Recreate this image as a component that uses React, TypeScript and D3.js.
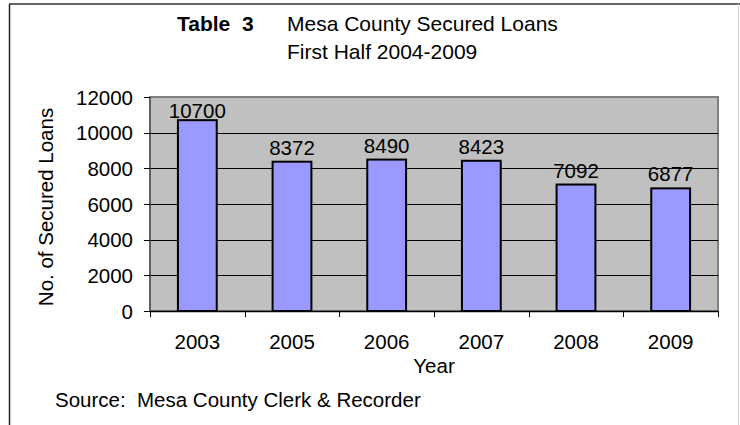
import React from "react";
import * as d3 from "d3";

const categories = ["2003", "2005", "2006", "2007", "2008", "2009"];
const loans = [10700, 8372, 8490, 8423, 7092, 6877];
const yTicks = [0, 2000, 4000, 6000, 8000, 10000, 12000];
const titleBold = "Table  3";
const titleLine1 = "Mesa County Secured Loans";
const titleLine2 = "First Half 2004-2009";
const xAxisTitle = "Year";
const yAxisTitle = "No. of Secured Loans";
const sourceNote = "Source:  Mesa County Clerk & Recorder";

const W = 740;
const H = 425;
const plot = { left: 150, right: 718, top: 97, bottom: 311 };
const FONT = "'Liberation Sans', Arial, sans-serif";
const FS = 20.5;

export default function App() {
  const y = d3.scaleLinear().domain([0, 12000]).range([plot.bottom, plot.top]);
  const pInner = 0.59;
  const x = d3
    .scaleBand<string>()
    .domain(categories)
    .range([plot.left, plot.right])
    .paddingInner(pInner)
    .paddingOuter(pInner / 2);
  const step = x.step();
  const boundaries = categories
    .map((c) => (x(c) as number) - (step * pInner) / 2)
    .concat([plot.right]);

  return (
    <svg
      width={W}
      height={H}
      style={{ position: "absolute", left: 0, top: 0, background: "#fff" }}
      fontFamily={FONT}
    >
      <rect x={0} y={0} width={W} height={H} fill="#fff" />
      {/* outer chart border */}
      <line x1={9.5} y1={4} x2={9.5} y2={H} stroke="#222" strokeWidth={1.5} />
      <line x1={9} y1={4} x2={W} y2={4} stroke="#333" strokeWidth={1.5} />
      <line x1={738.5} y1={4} x2={738.5} y2={H} stroke="#d0d0d0" strokeWidth={1} />

      {/* titles */}
      <text x={177} y={31} fontSize={21} fontWeight="bold" fill="#000" style={{ whiteSpace: "pre" }}>
        {titleBold}
      </text>
      <text x={287} y={31} fontSize={21} fill="#000">
        {titleLine1}
      </text>
      <text x={287} y={59} fontSize={21} fill="#000">
        {titleLine2}
      </text>

      {/* plot area */}
      <rect
        x={plot.left}
        y={plot.top}
        width={plot.right - plot.left}
        height={plot.bottom - plot.top}
        fill="#c0c0c0"
        stroke="#808080"
        strokeWidth={2}
      />
      {/* gridlines */}
      {yTicks
        .filter((t) => t > 0 && t < 12000)
        .map((t) => (
          <line
            key={"g" + t}
            x1={plot.left}
            x2={plot.right}
            y1={Math.round(y(t)) + 0.5}
            y2={Math.round(y(t)) + 0.5}
            stroke="#000"
            strokeWidth={1}
          />
        ))}

      {/* bars */}
      {categories.map((c, i) => (
        <rect
          key={"b" + c}
          x={x(c) as number}
          y={y(loans[i])}
          width={x.bandwidth()}
          height={plot.bottom - y(loans[i])}
          fill="#9999ff"
          stroke="#000"
          strokeWidth={2}
        />
      ))}

      {/* data labels (kept inside the plot area) */}
      {categories.map((c, i) => (
        <text
          key={"l" + c}
          x={(x(c) as number) + x.bandwidth() / 2}
          y={Math.max(y(loans[i]) - 7, plot.top + 21)}
          fontSize={FS}
          textAnchor="middle"
          fill="#000"
        >
          {loans[i]}
        </text>
      ))}

      {/* y axis */}
      <line x1={plot.left} x2={plot.left} y1={plot.top} y2={plot.bottom} stroke="#555" strokeWidth={1.5} />
      {yTicks.map((t) => (
        <g key={"yt" + t}>
          <line
            x1={plot.left - 6}
            x2={plot.left}
            y1={Math.round(y(t)) + 0.5}
            y2={Math.round(y(t)) + 0.5}
            stroke="#000"
            strokeWidth={1}
          />
          <text x={133} y={y(t) + 7.5} fontSize={FS} textAnchor="end" fill="#000">
            {t}
          </text>
        </g>
      ))}

      {/* x axis */}
      <line x1={plot.left} x2={plot.right} y1={plot.bottom + 0.5} y2={plot.bottom + 0.5} stroke="#000" strokeWidth={1.5} />
      {boundaries.map((b, i) => (
        <line
          key={"xt" + i}
          x1={Math.round(b) + 0.5}
          x2={Math.round(b) + 0.5}
          y1={plot.bottom}
          y2={plot.bottom + 6}
          stroke="#000"
          strokeWidth={1}
        />
      ))}
      {categories.map((c) => (
        <text
          key={"xl" + c}
          x={(x(c) as number) + x.bandwidth() / 2}
          y={349}
          fontSize={FS}
          textAnchor="middle"
          fill="#000"
        >
          {c}
        </text>
      ))}

      {/* axis titles */}
      <text
        x={(plot.left + plot.right) / 2}
        y={373}
        fontSize={FS}
        textAnchor="middle"
        fill="#000"
      >
        {xAxisTitle}
      </text>
      <text
        transform={`translate(53, ${(plot.top + plot.bottom) / 2 + 3}) rotate(-90)`}
        fontSize={FS}
        textAnchor="middle"
        fill="#000"
      >
        {yAxisTitle}
      </text>

      {/* source */}
      <text x={55} y={407} fontSize={FS} fill="#000" style={{ whiteSpace: "pre" }}>
        {sourceNote}
      </text>
    </svg>
  );
}
